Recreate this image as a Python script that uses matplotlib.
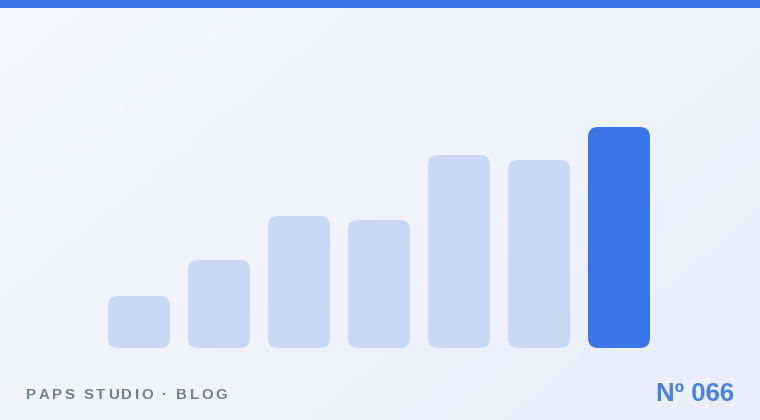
import numpy as np
import matplotlib.pyplot as plt
from matplotlib.patches import FancyBboxPatch, Rectangle

# bar heights (in px)
values = [52, 88, 132, 128, 193, 188, 221]
highlight = 6
brand = "PAPS STUDIO · BLOG"
issue = "Nº 066"

W, H = 760, 420
fig = plt.figure(figsize=(W / 100, H / 100), dpi=100)

# background gradient
bg = fig.add_axes([0, 0, 1, 1])
xx, yy = np.meshgrid(np.linspace(0, 1, 200), np.linspace(0, 1, 120))
t = (xx * 0.6 + yy * 0.4)
c0 = np.array([0xF6, 0xF9, 0xFF]) / 255
c1 = np.array([0xE8, 0xEF, 0xFB]) / 255
img = c0[None, None, :] * (1 - t[..., None]) + c1[None, None, :] * t[..., None]
bg.imshow(img, extent=[0, W, H, 0], aspect='auto')
bg.set_xlim(0, W)
bg.set_ylim(H, 0)
bg.axis('off')
bg.add_patch(Rectangle((0, 0), W, 8, color='#3B76E9', lw=0))

# chart area
n = len(values)
step, bw = 80, 62
left, base = 108, 348
ymax = max(values)
ax = fig.add_axes([left / W, (H - base) / H, (step * (n - 1) + bw) / W, ymax / H])
half = bw / step / 2
ax.set_xlim(-half, n - 1 + half)
ax.set_ylim(0, ymax)
ax.axis('off')

px_x = (n - 1 + 2 * half) / (step * (n - 1) + bw)  # data units per px along x
px_y = ymax / ymax
r = 10
for i, v in enumerate(values):
    col = '#3B76E9' if i == highlight else '#C9D8F3'
    p = FancyBboxPatch((i - half, 0), 2 * half, v,
                       boxstyle=f"round,pad=0,rounding_size={r * px_x}",
                       mutation_aspect=px_y / px_x, fc=col, ec='none')
    ax.add_patch(p)

# footer texts, letter-spaced by hand
fig.canvas.draw()
renderer = fig.canvas.get_renderer()
fs = 10.8
gap = 2.55
x = 26
for ch in brand:
    if ch == ' ':
        x += 0.278 * fs * 100 / 72 + gap
        continue
    tx = bg.text(x, 399, ch, fontsize=fs, fontweight='bold', color='#737F95',
                 family='Liberation Sans', va='baseline', ha='left')
    w = tx.get_window_extent(renderer).width
    x += w + gap
bg.text(734, 401, issue, fontsize=18.5, fontweight='bold', color='#4A7FE3',
        family='Liberation Sans', va='baseline', ha='right')

fig.savefig('out.png', dpi=100)
